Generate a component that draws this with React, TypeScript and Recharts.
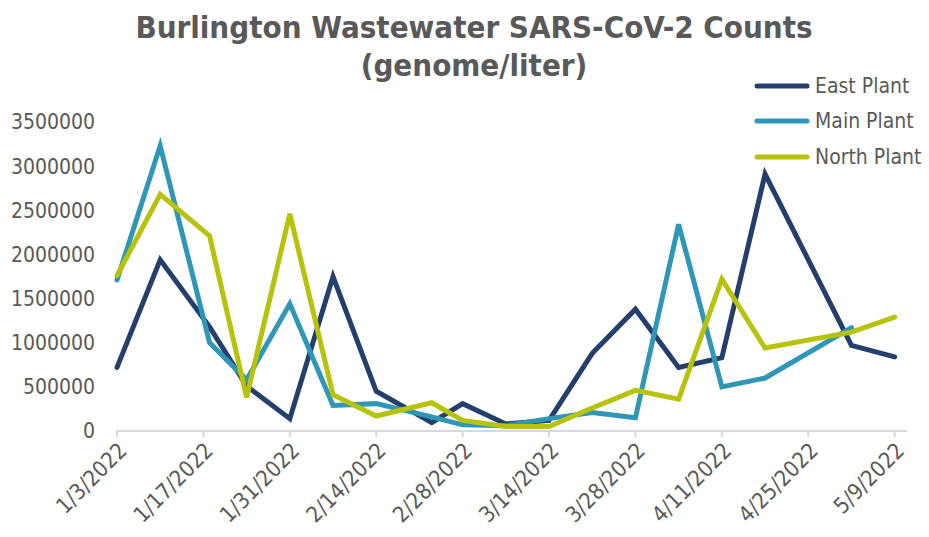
import { LineChart, Line, XAxis, YAxis } from "recharts";

const sampleDates = [
  "1/3/2022", "1/10/2022", "1/18/2022", "1/24/2022", "1/31/2022", "2/7/2022",
  "2/14/2022", "2/23/2022", "2/28/2022", "3/7/2022", "3/14/2022", "3/21/2022",
  "3/28/2022", "4/4/2022", "4/11/2022", "4/18/2022", "5/2/2022", "5/9/2022",
];

const eastPlant = [
  720000, 1940000, 1180000, 510000, 140000, 1750000,
  450000, 95000, 310000, 80000, 120000, 880000,
  1380000, 720000, 830000, 2910000, 970000, 840000,
];

const mainPlant = [
  1710000, 3230000, 1000000, 580000, 1440000, 290000,
  310000, 160000, 70000, 60000, 140000, 210000,
  150000, 2340000, 500000, 600000, 1170000, null,
];

const northPlant = [
  1760000, 2680000, 2210000, 380000, 2460000, 410000,
  170000, 320000, 120000, 50000, 50000, 260000,
  460000, 360000, 1720000, 940000, 1120000, 1290000,
];

const xTickDates = [
  "1/3/2022", "1/17/2022", "1/31/2022", "2/14/2022", "2/28/2022",
  "3/14/2022", "3/28/2022", "4/11/2022", "4/25/2022", "5/9/2022",
];

const yTicks = [0, 500000, 1000000, 1500000, 2000000, 2500000, 3000000, 3500000];

const series = [
  { key: "east", name: "East Plant", color: "#243F6B" },
  { key: "main", name: "Main Plant", color: "#2E97B7" },
  { key: "north", name: "North Plant", color: "#B7C20B" },
];

const FONT = "'DejaVu Sans Condensed', 'DejaVu Sans', sans-serif";
const GRAY = "#595959";

// days since the first sample, so the x axis is a real date scale
const toDay = (s: string) => {
  const [m, d, y] = s.split("/").map(Number);
  const [m0, d0, y0] = sampleDates[0].split("/").map(Number);
  return (Date.UTC(y, m - 1, d) - Date.UTC(y0, m0 - 1, d0)) / 86400000;
};

const labelByDay: Record<number, string> = {};
xTickDates.forEach((s) => (labelByDay[toDay(s)] = s));

const data = sampleDates.map((s, i) => ({
  day: toDay(s),
  east: eastPlant[i],
  main: mainPlant[i],
  north: northPlant[i],
}));

function LegendBox() {
  return (
    <div
      style={{
        position: "absolute",
        left: 754,
        top: 68,
        fontFamily: FONT,
        fontSize: 21,
        color: GRAY,
      }}
    >
      {series.map((s) => (
        <div key={s.key} style={{ display: "flex", alignItems: "center", height: 35.5 }}>
          <svg width={56} height={10}>
            <line x1={3} y1={5} x2={53} y2={5} stroke={s.color} strokeWidth={5} strokeLinecap="round" />
          </svg>
          <span style={{ marginLeft: 5 }}>{s.name}</span>
        </div>
      ))}
    </div>
  );
}

export default function App() {
  return (
    <div style={{ position: "absolute", left: 0, top: 0, width: 929, height: 537, background: "#fff" }}>
      <div
        style={{
          position: "absolute",
          left: 0,
          top: 8,
          width: 948,
          textAlign: "center",
          fontFamily: FONT,
          fontWeight: "bold",
          fontSize: 31,
          lineHeight: "38px",
          color: GRAY,
        }}
      >
        Burlington Wastewater SARS-CoV-2 Counts
        <br />
        (genome/liter)
      </div>
      <LineChart
        width={929}
        height={537}
        data={data}
        margin={{ top: 122, right: 22, bottom: 76, left: 0 }}
      >
        <XAxis
          dataKey="day"
          type="number"
          domain={[0, 128]}
          ticks={xTickDates.map(toDay)}
          tickFormatter={(v) => labelByDay[v] ?? ""}
          height={30}
          stroke="#D9D9D9"
          strokeWidth={2}
          tickSize={6}
          tickMargin={4}
          angle={-45}
          textAnchor="end"
          interval={0}
          tick={{ fill: GRAY, fontSize: 22, fontFamily: FONT }}
        />
        <YAxis
          domain={[0, 3500000]}
          ticks={yTicks}
          width={117}
          axisLine={false}
          tickLine={false}
          tickSize={0}
          tickMargin={22}
          interval={0}
          tick={{ fill: GRAY, fontSize: 21, fontFamily: FONT }}
        />
        {series.map((s) => (
          <Line
            key={s.key}
            dataKey={s.key}
            name={s.name}
            stroke={s.color}
            strokeWidth={5}
            strokeLinecap="round"
            dot={false}
            activeDot={false}
            type="linear"
            isAnimationActive={false}
          />
        ))}
      </LineChart>
      <LegendBox />
    </div>
  );
}
